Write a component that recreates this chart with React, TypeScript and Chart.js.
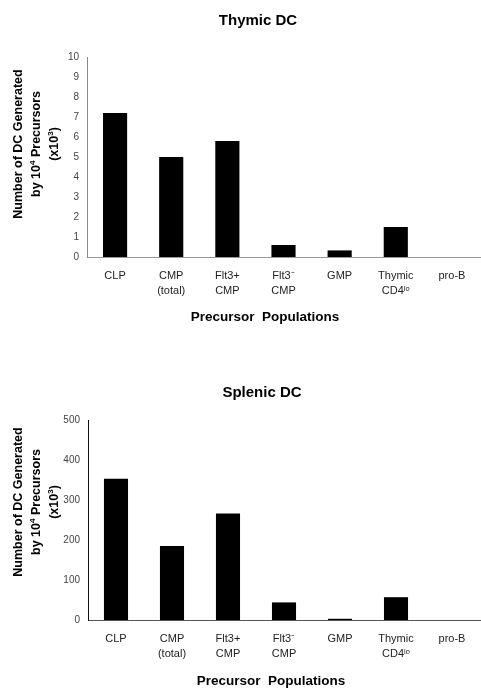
import React, { useEffect, useRef } from "react";
import { Chart, registerables } from "chart.js";

Chart.register(...registerables);

const categories: (string | string[])[] = [
  "CLP",
  ["CMP", "(total)"],
  ["Flt3+", "CMP"],
  ["Flt3\u207B", "CMP"],
  "GMP",
  ["Thymic", "CD4\u02E1\u1D52"],
  "pro-B",
];

const thymicValues = [7.2, 5.0, 5.8, 0.6, 0.33, 1.5, 0];
const splenicValues = [353, 185, 266, 44, 3, 57, 0];

const thymicTicks = { min: 0, max: 10, step: 1 };
const splenicTicks = { min: 0, max: 500, step: 100 };

const FONT = "'Liberation Sans', Arial, Helvetica, sans-serif";

type Seg = { t: string; sup?: boolean };

function drawSegs(ctx: CanvasRenderingContext2D, segs: Seg[], cx: number, cy: number, size: number) {
  // measure
  let total = 0;
  const widths = segs.map((s) => {
    ctx.font = `bold ${s.sup ? size * 0.65 : size}px ${FONT}`;
    const w = ctx.measureText(s.t).width;
    total += w;
    return w;
  });
  let x = cx - total / 2;
  ctx.textAlign = "left";
  ctx.textBaseline = "middle";
  segs.forEach((s, i) => {
    ctx.font = `bold ${s.sup ? size * 0.65 : size}px ${FONT}`;
    ctx.fillText(s.t, x, s.sup ? cy - size * 0.35 : cy);
    x += widths[i];
  });
}

type Cfg = {
  title: string;
  titleX: number;
  titleY: number;
  yTitleCY: number;
  xTitleX: number;
  xTitleY: number;
  yBorder: string;
  xBorder: string;
  axisW: number;
  padTop: number;
  padBottom: number;
};

function makeChart(
  canvas: HTMLCanvasElement,
  values: number[],
  ticks: { min: number; max: number; step: number },
  c: Cfg
) {
  const textPlugin = {
    id: "texts",
    afterDraw(chart: any) {
      const ctx: CanvasRenderingContext2D = chart.ctx;
      ctx.save();
      ctx.fillStyle = "#000";
      ctx.font = `bold 15px ${FONT}`;
      ctx.textAlign = "center";
      ctx.textBaseline = "alphabetic";
      ctx.fillText(c.title, c.titleX, c.titleY);

      ctx.font = `bold 13.5px ${FONT}`;
      ctx.fillText("Precursor  Populations", c.xTitleX, c.xTitleY);

      const lines: { x: number; segs: Seg[] }[] = [
        { x: 19, segs: [{ t: "Number of DC Generated" }] },
        { x: 37, segs: [{ t: "by 10" }, { t: "4", sup: true }, { t: " Precursors" }] },
        { x: 55, segs: [{ t: "(x10" }, { t: "3", sup: true }, { t: ")" }] },
      ];
      lines.forEach((ln) => {
        ctx.save();
        ctx.translate(ln.x, c.yTitleCY);
        ctx.rotate(-Math.PI / 2);
        drawSegs(ctx, ln.segs, 0, 0, 12.5);
        ctx.restore();
      });
      ctx.restore();
    },
  };

  return new Chart(canvas, {
    type: "bar",
    data: {
      labels: categories,
      datasets: [
        {
          data: values,
          backgroundColor: "#000",
          borderWidth: 0,
          barPercentage: 0.43,
          categoryPercentage: 1,
        },
      ],
    },
    options: {
      animation: false,
      responsive: false,
      devicePixelRatio: 1,
      layout: { padding: { top: c.padTop, left: 0, right: 1, bottom: c.padBottom } },
      plugins: { legend: { display: false }, tooltip: { enabled: false }, title: { display: false } },
      scales: {
        x: {
          grid: { display: false, drawTicks: false },
          border: { display: true, color: c.xBorder, width: 1 },
          ticks: {
            padding: 11,
            color: "#222",
            font: { family: FONT, size: 11, lineHeight: "15px" },
            maxRotation: 0,
            autoSkip: false,
          },
          afterFit(scale: any) {
            scale.height = 40;
          },
        },
        y: {
          min: ticks.min,
          max: ticks.max,
          grid: { display: false, drawTicks: false },
          border: { display: true, color: c.yBorder, width: 1 },
          ticks: {
            stepSize: ticks.step,
            padding: 8,
            color: "#444",
            font: { family: FONT, size: 10 },
          },
          afterFit(scale: any) {
            scale.width = c.axisW;
          },
        },
      },
    },
    plugins: [textPlugin],
  });
}

export default function App() {
  const topRef = useRef<HTMLCanvasElement>(null);
  const botRef = useRef<HTMLCanvasElement>(null);

  useEffect(() => {
    const a = makeChart(topRef.current!, thymicValues, thymicTicks, {
      title: "Thymic DC",
      titleX: 258,
      titleY: 25,
      yTitleCY: 144,
      xTitleX: 265,
      xTitleY: 321,
      yBorder: "#8a8a8a",
      xBorder: "#999",
      axisW: 87,
      padTop: 57,
      padBottom: 43,
    });
    const b = makeChart(botRef.current!, splenicValues, splenicTicks, {
      title: "Splenic DC",
      titleX: 262,
      titleY: 57,
      yTitleCY: 162,
      xTitleX: 271,
      xTitleY: 345,
      yBorder: "#111",
      xBorder: "#555",
      axisW: 88,
      padTop: 80,
      padBottom: 28,
    });
    return () => {
      a.destroy();
      b.destroy();
    };
  }, []);

  return (
    <div style={{ position: "absolute", left: 0, top: 0, width: 481, height: 688, background: "#fff", overflow: "hidden" }}>
      <canvas ref={topRef} width={481} height={340} style={{ position: "absolute", left: 0, top: 0, width: 481, height: 340 }} />
      <canvas ref={botRef} width={481} height={348} style={{ position: "absolute", left: 0, top: 340, width: 481, height: 348 }} />
    </div>
  );
}
